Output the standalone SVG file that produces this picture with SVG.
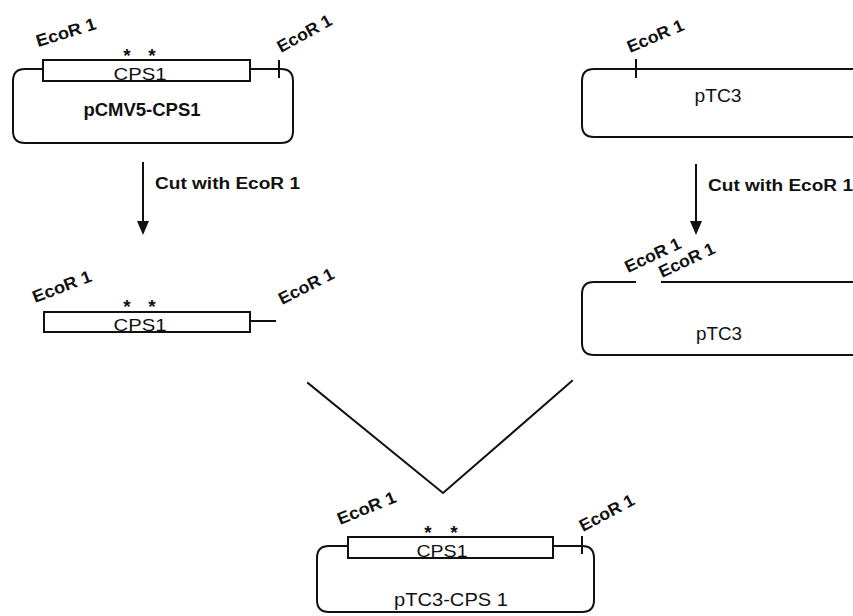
<svg xmlns="http://www.w3.org/2000/svg" width="853" height="616" viewBox="0 0 853 616">
  <style>
    .ln { fill: none; stroke: #111; stroke-width: 2; stroke-linecap: square; }
    .box { fill: #fff; stroke: #111; stroke-width: 2; }
    .site { font-family: "Liberation Sans", Arial, sans-serif; font-weight: bold; font-size: 17px; fill: #111; }
    .gene { font-family: "Liberation Sans", Arial, sans-serif; font-size: 17px; fill: #111; text-anchor: middle; }
    .star { font-family: "Liberation Sans", Arial, sans-serif; font-weight: bold; font-size: 19px; fill: #111; text-anchor: middle; }
    .name { font-family: "Liberation Sans", Arial, sans-serif; font-size: 18px; fill: #111; text-anchor: middle; }
    .step { font-family: "Liberation Sans", Arial, sans-serif; font-weight: bold; font-size: 16px; fill: #111; }
  </style>
  <rect width="853" height="616" fill="#fff"/>

  <!-- pCMV5-CPS1 plasmid -->
  <g id="pcmv5-cps1">
    <path class="ln" d="M43,69 H25 Q13,69 13,81 V131 Q13,143 25,143 H281 Q293,143 293,131 V81 Q293,69 281,69 H250"/>
    <path class="ln" d="M279,61 V77"/>
    <rect class="box" x="43" y="60" width="207" height="21"/>
    <text class="star" x="127" y="62">*</text>
    <text class="star" x="152" y="62">*</text>
    <text class="gene" x="140" y="80" textLength="53" lengthAdjust="spacingAndGlyphs">CPS1</text>
    <text class="name" x="142" y="116" font-weight="bold" font-size="15" textLength="117" lengthAdjust="spacingAndGlyphs">pCMV5-CPS1</text>
    <text class="site" transform="translate(38,47) rotate(-17)" textLength="62" lengthAdjust="spacingAndGlyphs">EcoR 1</text>
    <text class="site" transform="translate(281,53) rotate(-29)" textLength="60" lengthAdjust="spacingAndGlyphs">EcoR 1</text>
  </g>

  <!-- pTC3 vector -->
  <g id="ptc3">
    <path class="ln" d="M853,69 H594 Q582,69 582,81 V125 Q582,137 594,137 H853"/>
    <path class="ln" d="M636,60 V77"/>
    <text class="name" x="718" y="102" textLength="47" lengthAdjust="spacingAndGlyphs">pTC3</text>
    <text class="site" transform="translate(630,53) rotate(-23)" textLength="60" lengthAdjust="spacingAndGlyphs">EcoR 1</text>
  </g>

  <!-- CPS1 fragment after EcoR 1 digestion -->
  <g id="cps1-fragment">
    <path class="ln" d="M250,321 H275"/>
    <rect class="box" x="44" y="312" width="206" height="20"/>
    <text class="star" x="127" y="313">*</text>
    <text class="star" x="152" y="313">*</text>
    <text class="gene" x="140" y="331" textLength="53" lengthAdjust="spacingAndGlyphs">CPS1</text>
    <text class="site" transform="translate(35,303) rotate(-21)" textLength="62" lengthAdjust="spacingAndGlyphs">EcoR 1</text>
    <text class="site" transform="translate(282,305) rotate(-27)" textLength="60" lengthAdjust="spacingAndGlyphs">EcoR 1</text>
  </g>

  <!-- linearised pTC3 -->
  <g id="ptc3-cut">
    <path class="ln" d="M853,282 H662"/>
    <path class="ln" d="M635,282 H594 Q582,282 582,294 V343 Q582,355 594,355 H853"/>
    <text class="name" x="719" y="340" textLength="46" lengthAdjust="spacingAndGlyphs">pTC3</text>
    <text class="site" transform="translate(628,273) rotate(-25)" textLength="60" lengthAdjust="spacingAndGlyphs">EcoR 1</text>
    <text class="site" transform="translate(662,278) rotate(-25)" textLength="60" lengthAdjust="spacingAndGlyphs">EcoR 1</text>
  </g>

  <!-- ligated product -->
  <g id="ptc3-cps1">
    <path class="ln" d="M348,546 H329 Q317,546 317,558 V600 Q317,612 329,612 H582 Q594,612 594,600 V558 Q594,546 582,546 H553"/>
    <path class="ln" d="M582,537 V553"/>
    <rect class="box" x="348" y="537" width="205" height="21"/>
    <text class="star" x="428" y="539">*</text>
    <text class="star" x="454" y="539">*</text>
    <text class="gene" x="442" y="557" textLength="51" lengthAdjust="spacingAndGlyphs">CPS1</text>
    <text class="name" x="451" y="606" font-size="20" textLength="114" lengthAdjust="spacingAndGlyphs">pTC3-CPS 1</text>
    <text class="site" transform="translate(340,525) rotate(-22)" textLength="62" lengthAdjust="spacingAndGlyphs">EcoR 1</text>
    <text class="site" transform="translate(583,532) rotate(-28)" textLength="60" lengthAdjust="spacingAndGlyphs">EcoR 1</text>
  </g>

  <!-- connectors: digestion arrows and ligation lines -->
  <g id="connectors">
    <path class="ln" d="M143,163 V223"/>
    <polygon points="137,221 149,221 143,235" fill="#111"/>
    <text class="step" x="155" y="189" textLength="145" lengthAdjust="spacingAndGlyphs">Cut with EcoR 1</text>
    <path class="ln" d="M696,165 V223"/>
    <polygon points="690,221 702,221 696,235" fill="#111"/>
    <text class="step" x="708" y="191" textLength="145" lengthAdjust="spacingAndGlyphs">Cut with EcoR 1</text>
    <path class="ln" d="M308,383 L443,493 L572,381"/>
  </g>
</svg>
